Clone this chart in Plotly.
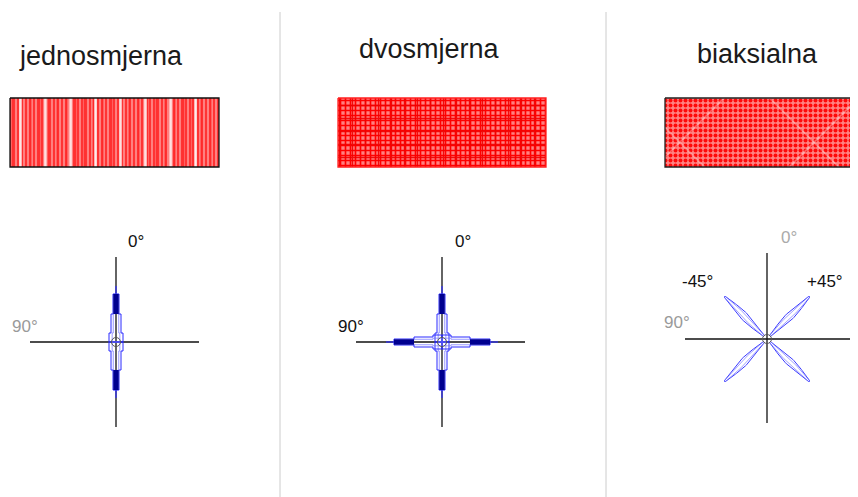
import numpy as np
import plotly.graph_objects as go

# ---------------- data ----------------
panel_titles = ["jednosmjerna", "dvosmjerna", "biaksialna"]
fiber_angles = [[0], [0, 90], [-45, 45]]          # degrees from the 0° axis
label_texts = [["0°", "90°"], ["0°", "90°"], ["0°", "90°", "-45°", "+45°"]]
label_colors = [["#111111", "#9a9a9a"], ["#111111", "#111111"],
                ["#aaaaaa", "#9a9a9a", "#111111", "#111111"]]

# ---------------- layout constants (pixels of the 858x497 window) ----------------
W, H = 858, 497
PAD = 8   # page body margin
centers = [(116, 342), (442, 342), (767, 339)]
title_pos = [(101, 56), (429, 49), (757, 54)]
rects = [(10, 219, 98, 167), (338, 546, 98, 167), (665, 875, 98, 167)]
axis_ext = [((30, 199), (257, 427)), ((356, 525), (257, 427)), ((685, 852), (253, 423))]
label_pos = [[(136, 241), (25, 326)], [(463, 241), (351, 326)],
             [(789, 237), (677, 322), (697, 281), (825, 281)]]
dividers = [280, 606]

fig = go.Figure()

def line(xs, ys, color, width, **kw):
    fig.add_trace(go.Scatter(x=xs, y=ys, mode="lines", line=dict(color=color, width=width),
                             hoverinfo="skip", showlegend=False, **kw))

# dividers
for dx in dividers:
    line([dx, dx], [12, H + 5], "#cccccc", 1)

# titles
for t, (tx, ty) in zip(panel_titles, title_pos):
    fig.add_annotation(x=tx, y=ty, text=t, showarrow=False, xanchor="center", yanchor="middle",
                       font=dict(family="Liberation Sans, Arial", size=27, color="#1a1a1a"))

# fabric rectangles with fill patterns
patterns = [
    [dict(shape="|", bgcolor="#ff8080", fgcolor="#ff2020", size=4, solidity=0.4),
     dict(shape="|", bgcolor="rgba(0,0,0,0)", fgcolor="rgba(255,40,40,0.9)", size=9, solidity=0.2),
     dict(shape="|", bgcolor="rgba(0,0,0,0)", fgcolor="rgba(255,255,255,0.85)", size=25, solidity=0.1)],
    [dict(shape="+", bgcolor="#ff8080", fgcolor="#ff0000", size=5, solidity=0.55),
     dict(shape="+", bgcolor="rgba(0,0,0,0)", fgcolor="rgba(240,0,0,0.9)", size=13, solidity=0.2)],
    [dict(shape=".", bgcolor="#ff8484", fgcolor="#ff0a0a", size=5, solidity=0.5),
     dict(shape="x", bgcolor="rgba(0,0,0,0)", fgcolor="rgba(255,255,255,0.45)", size=95, solidity=0.03)],
]
border_cols = ["#111111", "#ff2020", "#222222"]
for (x0, x1, y0, y1), pats, bc in zip(rects, patterns, border_cols):
    for p in pats:
        fig.add_trace(go.Scatter(x=[x0, x1, x1, x0, x0], y=[y0, y0, y1, y1, y0], mode="lines",
                                 fill="toself", fillcolor="rgba(0,0,0,0)", line=dict(width=0),
                                 fillpattern=dict(fillmode="replace", **p),
                                 hoverinfo="skip", showlegend=False))
    line([x0, x1, x1, x0, x0], [y0, y0, y1, y1, y0], bc, 1.3)

# axes crosses
for (cx, cy), ((hx0, hx1), (vy0, vy1)) in zip(centers, axis_ext):
    line([hx0, hx1], [cy, cy], "#111111", 1.3)
    line([cx, cx], [vy0, vy1], "#111111", 1.3)

def rot(t, s, ang, cx, cy):
    a = np.deg2rad(ang)
    ux, uy = np.sin(a), -np.cos(a)     # along fiber
    vx, vy = np.cos(a), np.sin(a)      # across fiber
    t = np.asarray(t, float); s = np.asarray(s, float)
    return cx + t * ux + s * vx, cy + t * uy + s * vy

# axial (stepped spindle) fibers
steps_t = [0, 9, 9, 28, 28, 48]
steps_w = [7, 7, 5, 5, 3, 3]
for pi in (0, 1):
    cx, cy = centers[pi]
    for ang in fiber_angles[pi]:
        for sign in (1, -1):
            t = np.array(steps_t) * sign
            w = np.array(steps_w)
            tt = np.concatenate([t, t[::-1]])
            ss = np.concatenate([w, -w[::-1]])
            x, y = rot(tt, ss, ang, cx, cy)
            line(list(x) + [x[0]], list(y) + [y[0]], "#2a2aff", 1)
            x, y = rot(tt, ss * 0.55, ang, cx, cy)
            line(list(x) + [x[0]], list(y) + [y[0]], "#7070ff", 0.7)
            x, y = rot([28 * sign, 48 * sign], [0, 0], ang, cx, cy)
            line(x, y, "#000090", 5.5)
            x, y = rot([48 * sign, 56 * sign], [0, 0], ang, cx, cy)
            line(x, y, "#3030ff", 1.2)

# biaxial lens fibers
cx, cy = centers[2]
r = np.linspace(4, 60, 40)
for ang in fiber_angles[2]:
    for sign in (1, -1):
        for wmax, col, wd in ((3.2, "#3a3aff", 1), (1.5, "#7a7aff", 0.7)):
            w = wmax * np.sin(np.pi * (r - 4) / 56) ** 1.2 + 0.6
            tt = np.concatenate([r, r[::-1]]) * sign
            ss = np.concatenate([w, -w[::-1]])
            x, y = rot(tt, ss, ang, cx, cy)
            line(x, y, col, wd)

# center markers
fig.add_trace(go.Scatter(x=[c[0] for c in centers], y=[c[1] for c in centers], mode="markers",
                         marker=dict(symbol="circle-open", size=9, color="#555555", line=dict(width=1)),
                         hoverinfo="skip", showlegend=False))

# angle labels
for texts, cols, poss in zip(label_texts, label_colors, label_pos):
    for t, c, (lx, ly) in zip(texts, cols, poss):
        fig.add_annotation(x=lx, y=ly, text=t, showarrow=False, xanchor="center", yanchor="middle",
                           font=dict(family="Liberation Sans, Arial", size=17, color=c))

fig.update_layout(
    width=W - PAD, height=H - PAD, margin=dict(l=0, r=0, t=0, b=0),
    paper_bgcolor="white", plot_bgcolor="white",
    xaxis=dict(range=[PAD, W], visible=False, fixedrange=True),
    yaxis=dict(range=[H, PAD], visible=False, fixedrange=True),
)
fig.write_html("out.html", config=dict(displayModeBar=False))
